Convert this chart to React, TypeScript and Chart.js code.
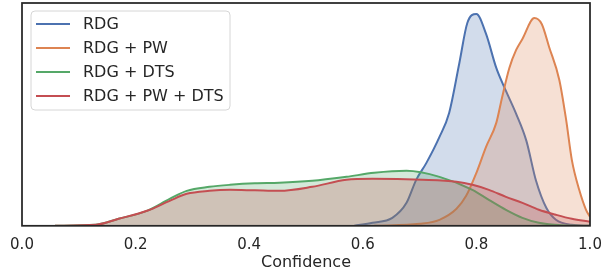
import React, { useEffect, useRef } from "react";
import { Chart, registerables } from "chart.js";

Chart.register(...registerables);

const seriesNames = ["RDG", "RDG + PW", "RDG + DTS", "RDG + PW + DTS"];
const lineColors = ["#4C72B0", "#DD8452", "#55A868", "#C44E52"];
const fillColors = [
  "rgba(76,114,176,0.25)",
  "rgba(221,132,82,0.25)",
  "rgba(85,168,104,0.25)",
  "rgba(196,78,82,0.25)",
];

const xTicks = [0, 0.2, 0.4, 0.6, 0.8, 1.0];
const xTitle = "Confidence";

const rdgX = [0.585, 0.617, 0.652, 0.677, 0.694, 0.712, 0.735, 0.752, 0.77, 0.784, 0.8, 0.817, 0.835, 0.852, 0.87, 0.888, 0.905, 0.923, 0.94, 0.968, 1.0];
const rdgY = [0, 3, 8, 23, 46, 63, 89, 113, 163, 203, 212, 192, 158, 135, 112, 85, 45, 18, 6, 1, 0];

const rdgPwX = [0.62, 0.7, 0.735, 0.765, 0.782, 0.8, 0.817, 0.835, 0.845, 0.858, 0.87, 0.881, 0.902, 0.915, 0.928, 0.946, 0.958, 0.968, 0.981, 0.993, 1.0];
const rdgPwY = [0, 2, 6, 17, 30, 53, 79, 103, 128, 158, 176, 187, 208, 202, 179, 146, 106, 66, 36, 16, 9];

const rdgDtsX = [0.058, 0.13, 0.17, 0.22, 0.26, 0.29, 0.33, 0.366, 0.41, 0.453, 0.511, 0.571, 0.62, 0.677, 0.735, 0.793, 0.822, 0.852, 0.881, 0.91, 0.95, 1.0];
const rdgDtsY = [0, 1, 7, 15, 27, 35, 39, 41, 42.5, 43, 45, 49, 53, 55, 49, 36, 26, 16, 8, 3, 0.5, 0];

const rdgPwDtsX = [0.058, 0.13, 0.17, 0.22, 0.26, 0.29, 0.33, 0.366, 0.41, 0.453, 0.511, 0.571, 0.617, 0.705, 0.765, 0.793, 0.822, 0.852, 0.881, 0.91, 0.94, 0.968, 1.0];
const rdgPwDtsY = [0, 1, 7, 15, 25, 32, 35, 36, 35.5, 35, 39, 46, 47, 46, 44, 41, 36, 29, 23, 16, 11, 7, 4];

const seriesX = [rdgX, rdgPwX, rdgDtsX, rdgPwDtsX];
const seriesY = [rdgY, rdgPwY, rdgDtsY, rdgPwDtsY];

const TEXT = "#262626";
const FONT = "'DejaVu Sans', sans-serif";

const framePlugin = {
  id: "frameAndLegend",
  afterDraw(chart: any) {
    const { ctx, chartArea } = chart;
    ctx.save();
    ctx.strokeStyle = TEXT;
    ctx.lineWidth = 1.75;
    ctx.strokeRect(chartArea.left, chartArea.top, chartArea.right - chartArea.left, chartArea.bottom - chartArea.top);

    // legend box
    const bx = chartArea.left + 9;
    const by = chartArea.top + 8;
    const bw = 199;
    const bh = 99;
    const r = 4;
    ctx.beginPath();
    ctx.moveTo(bx + r, by);
    ctx.lineTo(bx + bw - r, by);
    ctx.quadraticCurveTo(bx + bw, by, bx + bw, by + r);
    ctx.lineTo(bx + bw, by + bh - r);
    ctx.quadraticCurveTo(bx + bw, by + bh, bx + bw - r, by + bh);
    ctx.lineTo(bx + r, by + bh);
    ctx.quadraticCurveTo(bx, by + bh, bx, by + bh - r);
    ctx.lineTo(bx, by + r);
    ctx.quadraticCurveTo(bx, by, bx + r, by);
    ctx.closePath();
    ctx.fillStyle = "rgba(255,255,255,0.8)";
    ctx.fill();
    ctx.strokeStyle = "#d6d6d6";
    ctx.lineWidth = 1;
    ctx.stroke();

    ctx.font = `16px ${FONT}`;
    ctx.textBaseline = "middle";
    ctx.textAlign = "left";
    seriesNames.forEach((name, i) => {
      const y = by + 13 + i * 24;
      ctx.strokeStyle = lineColors[i];
      ctx.lineWidth = 2;
      ctx.beginPath();
      ctx.moveTo(bx + 5, y);
      ctx.lineTo(bx + 39, y);
      ctx.stroke();
      ctx.fillStyle = TEXT;
      ctx.fillText(name, bx + 52, y + 1);
    });
    ctx.restore();
  },
};

export default function App() {
  const canvasRef = useRef<HTMLCanvasElement>(null);

  useEffect(() => {
    const canvas = canvasRef.current;
    if (!canvas) return;
    const datasets = seriesNames.map((name, i) => ({
      label: name,
      data: seriesX[i].map((x, j) => ({ x, y: seriesY[i][j] })),
      borderColor: lineColors[i],
      backgroundColor: fillColors[i],
      borderWidth: 2,
      fill: "origin",
      pointRadius: 0,
      cubicInterpolationMode: "monotone" as const,
      order: seriesNames.length - i,
    }));
    const chart = new Chart(canvas, {
      type: "line",
      data: { datasets },
      options: {
        animation: false,
        responsive: false,
        maintainAspectRatio: false,
        layout: { padding: { left: 22, right: 19, top: 3, bottom: 0 } },
        plugins: { legend: { display: false }, tooltip: { enabled: false } },
        scales: {
          x: {
            type: "linear",
            min: 0,
            max: 1,
            afterBuildTicks: (axis: any) => {
              axis.ticks = xTicks.map((v) => ({ value: v }));
            },
            afterFit: (axis: any) => {
              axis.paddingLeft = 0;
              axis.paddingRight = 0;
            },
            ticks: {
              callback: (v: any) => Number(v).toFixed(1),
              font: { family: FONT, size: 15 },
              color: TEXT,
              padding: 10,
              maxRotation: 0,
            },
            grid: { display: false, drawTicks: false },
            border: { display: false },
            title: {
              display: true,
              text: xTitle,
              font: { family: FONT, size: 16 },
              color: TEXT,
              padding: { top: -11, bottom: 1 },
            },
          },
          y: {
            display: false,
            min: 0,
            max: 223,
          },
        },
      },
      plugins: [framePlugin],
    });
    return () => chart.destroy();
  }, []);

  return (
    <div style={{ position: "absolute", left: 0, top: 0, width: 609, height: 273, background: "#fff" }}>
      <canvas ref={canvasRef} width={609} height={273} style={{ display: "block" }} />
    </div>
  );
}
